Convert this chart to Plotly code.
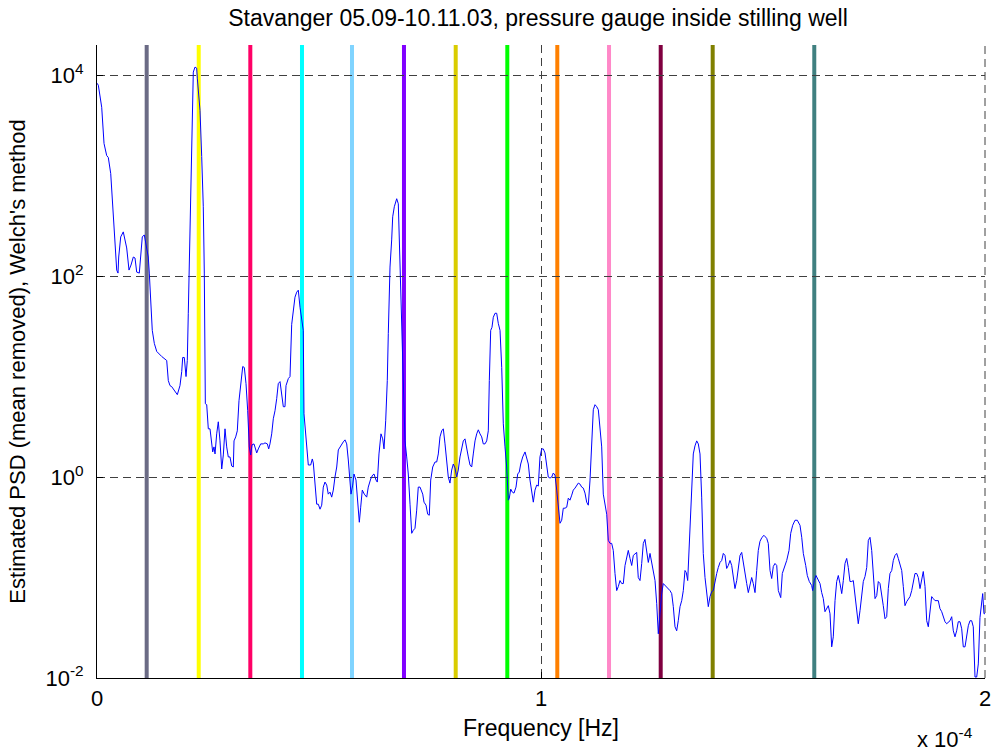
import plotly.graph_objects as go

# Frequency in units of 1e-4 Hz and log10 of the estimated PSD
freq_e4 = [
    0.0000, 0.0030, 0.0106, 0.0128, 0.0158, 0.0218, 0.0255, 0.0309, 0.0331, 0.0383,
    0.0405, 0.0444, 0.0473, 0.0489, 0.0534, 0.0592, 0.0669, 0.0721, 0.0766, 0.0818,
    0.0856, 0.0894, 0.0953, 0.0984, 0.1020, 0.1065, 0.1104, 0.1155, 0.1178, 0.1209,
    0.1245, 0.1291, 0.1345, 0.1457, 0.1532, 0.1570, 0.1606, 0.1644, 0.1682, 0.1757,
    0.1809, 0.1869, 0.1908, 0.1930, 0.1966, 0.2005, 0.2034, 0.2056, 0.2065, 0.2110,
    0.2133, 0.2169, 0.2207, 0.2245, 0.2259, 0.2320, 0.2358, 0.2394, 0.2417, 0.2432,
    0.2440, 0.2471, 0.2507, 0.2545, 0.2583, 0.2606, 0.2635, 0.2658, 0.2696, 0.2732,
    0.2770, 0.2809, 0.2845, 0.2883, 0.2921, 0.2957, 0.2995, 0.3034, 0.3070, 0.3086,
    0.3124, 0.3160, 0.3198, 0.3236, 0.3282, 0.3318, 0.3356, 0.3394, 0.3430, 0.3462,
    0.3491, 0.3536, 0.3597, 0.3633, 0.3687, 0.3745, 0.3784, 0.3836, 0.3867, 0.3896,
    0.3935, 0.3971, 0.4009, 0.4047, 0.4083, 0.4122, 0.4160, 0.4196, 0.4234, 0.4257,
    0.4309, 0.4347, 0.4385, 0.4421, 0.4459, 0.4498, 0.4534, 0.4572, 0.4610, 0.4646,
    0.4662, 0.4685, 0.4723, 0.4759, 0.4813, 0.4849, 0.4872, 0.4910, 0.4948, 0.4984,
    0.5023, 0.5061, 0.5097, 0.5135, 0.5174, 0.5209, 0.5248, 0.5286, 0.5322, 0.5360,
    0.5399, 0.5435, 0.5473, 0.5547, 0.5586, 0.5624, 0.5660, 0.5698, 0.5721, 0.5759,
    0.5788, 0.5833, 0.5863, 0.5908, 0.5939, 0.5975, 0.6020, 0.6074, 0.6110, 0.6164,
    0.6209, 0.6239, 0.6284, 0.6313, 0.6351, 0.6396, 0.6435, 0.6464, 0.6502, 0.6538,
    0.6561, 0.6599, 0.6637, 0.6660, 0.6696, 0.6750, 0.6786, 0.6824, 0.6863, 0.6899,
    0.6937, 0.6975, 0.7011, 0.7050, 0.7088, 0.7124, 0.7162, 0.7200, 0.7236, 0.7275,
    0.7336, 0.7365, 0.7410, 0.7448, 0.7484, 0.7516, 0.7561, 0.7613, 0.7651, 0.7687,
    0.7725, 0.7764, 0.7800, 0.7838, 0.7876, 0.7912, 0.7950, 0.7989, 0.8025, 0.8063,
    0.8101, 0.8137, 0.8176, 0.8214, 0.8250, 0.8288, 0.8327, 0.8363, 0.8401, 0.8439,
    0.8475, 0.8514, 0.8552, 0.8588, 0.8626, 0.8664, 0.8700, 0.8739, 0.8777, 0.8813,
    0.8836, 0.8867, 0.8896, 0.8926, 0.8964, 0.9002, 0.9038, 0.9077, 0.9115, 0.9151,
    0.9189, 0.9227, 0.9264, 0.9286, 0.9318, 0.9354, 0.9392, 0.9437, 0.9475, 0.9511,
    0.9543, 0.9588, 0.9640, 0.9678, 0.9714, 0.9752, 0.9791, 0.9827, 0.9865, 0.9903,
    0.9939, 0.9977, 1.0016, 1.0052, 1.0090, 1.0128, 1.0164, 1.0203, 1.0241, 1.0277,
    1.0315, 1.0354, 1.0390, 1.0428, 1.0466, 1.0502, 1.0541, 1.0579, 1.0615, 1.0653,
    1.0692, 1.0727, 1.0766, 1.0804, 1.0840, 1.0878, 1.0917, 1.0953, 1.0991, 1.1029,
    1.1065, 1.1104, 1.1142, 1.1178, 1.1216, 1.1255, 1.1291, 1.1329, 1.1367, 1.1403,
    1.1441, 1.1480, 1.1516, 1.1554, 1.1592, 1.1628, 1.1667, 1.1705, 1.1741, 1.1779,
    1.1818, 1.1854, 1.1892, 1.1930, 1.1966, 1.2005, 1.2043, 1.2079, 1.2117, 1.2155,
    1.2191, 1.2230, 1.2268, 1.2304, 1.2342, 1.2381, 1.2417, 1.2455, 1.2493, 1.2529,
    1.2568, 1.2606, 1.2642, 1.2680, 1.2718, 1.2754, 1.2793, 1.2831, 1.2867, 1.2905,
    1.2944, 1.2980, 1.3018, 1.3056, 1.3092, 1.3131, 1.3169, 1.3205, 1.3243, 1.3272,
    1.3304, 1.3318, 1.3356, 1.3394, 1.3430, 1.3468, 1.3507, 1.3543, 1.3581, 1.3619,
    1.3655, 1.3694, 1.3732, 1.3768, 1.3806, 1.3845, 1.3881, 1.3919, 1.3957, 1.3993,
    1.4032, 1.4070, 1.4106, 1.4144, 1.4182, 1.4218, 1.4257, 1.4295, 1.4331, 1.4369,
    1.4408, 1.4444, 1.4482, 1.4520, 1.4556, 1.4595, 1.4633, 1.4669, 1.4707, 1.4745,
    1.4781, 1.4820, 1.4858, 1.4894, 1.4932, 1.4977, 1.5023, 1.5083, 1.5119, 1.5158,
    1.5196, 1.5232, 1.5270, 1.5309, 1.5345, 1.5399, 1.5435, 1.5495, 1.5534, 1.5586,
    1.5624, 1.5669, 1.5721, 1.5773, 1.5833, 1.5872, 1.5908, 1.5962, 1.5998, 1.6043,
    1.6097, 1.6119, 1.6155, 1.6194, 1.6245, 1.6284, 1.6322, 1.6358, 1.6396, 1.6435,
    1.6471, 1.6509, 1.6547, 1.6583, 1.6622, 1.6660, 1.6696, 1.6734, 1.6773, 1.6809,
    1.6847, 1.6885, 1.6921, 1.6959, 1.6998, 1.7034, 1.7072, 1.7110, 1.7146, 1.7185,
    1.7223, 1.7259, 1.7297, 1.7336, 1.7372, 1.7410, 1.7448, 1.7484, 1.7523, 1.7561,
    1.7597, 1.7635, 1.7674, 1.7709, 1.7748, 1.7786, 1.7822, 1.7860, 1.7899, 1.7935,
    1.7973, 1.8011, 1.8047, 1.8086, 1.8124, 1.8160, 1.8198, 1.8236, 1.8272, 1.8311,
    1.8349, 1.8385, 1.8423, 1.8462, 1.8498, 1.8536, 1.8574, 1.8610, 1.8649, 1.8687,
    1.8723, 1.8761, 1.8799, 1.8835, 1.8874, 1.8948, 1.8986, 1.9025, 1.9061, 1.9099,
    1.9137, 1.9173, 1.9212, 1.9250, 1.9286, 1.9324, 1.9362, 1.9398, 1.9437, 1.9475,
    1.9511, 1.9550, 1.9588, 1.9624, 1.9662, 1.9700, 1.9736, 1.9775, 1.9813, 1.9849,
    1.9887, 1.9926, 1.9948, 1.9977, 2.0000,
]

log10_psd = [
    3.92, 3.90, 3.68, 3.49, 3.32, 3.20, 3.18, 3.02, 2.86, 2.53,
    2.26, 2.06, 2.03, 2.19, 2.39, 2.44, 2.28, 2.06, 2.11, 2.19,
    2.18, 2.04, 2.03, 2.19, 2.39, 2.41, 2.33, 2.19, 2.03, 1.69,
    1.46, 1.33, 1.25, 1.20, 1.17, 1.16, 0.96, 0.91, 0.90, 0.85,
    0.82, 0.91, 1.05, 1.19, 1.19, 1.00, 1.16, 1.63, 1.83, 3.02,
    3.55, 4.03, 4.08, 4.07, 3.97, 3.65, 3.19, 2.69, 2.03, 1.06,
    0.73, 0.72, 0.48, 0.48, 0.36, 0.25, 0.30, 0.23, 0.43, 0.55,
    0.36, 0.08, 0.22, 0.48, 0.30, 0.20, 0.20, 0.11, 0.10, 0.36,
    0.40, 0.46, 0.76, 0.91, 1.10, 1.09, 0.93, 0.66, 0.30, 0.22,
    0.32, 0.33, 0.24, 0.28, 0.33, 0.33, 0.34, 0.33, 0.28, 0.33,
    0.43, 0.58, 0.66, 0.78, 0.93, 0.95, 0.81, 0.70, 0.70, 0.91,
    0.98, 1.00, 1.52, 1.69, 1.79, 1.84, 1.86, 1.69, 1.56, 1.46,
    0.63, 0.50, 0.30, 0.12, 0.12, 0.18, 0.14, -0.10, -0.27, -0.27,
    -0.32, -0.28, -0.10, -0.05, -0.08, -0.17, -0.15, -0.20, -0.13, 0.00,
    0.10, 0.27, 0.30, 0.35, 0.37, 0.33, 0.17, -0.03, -0.17, -0.08,
    0.03, -0.03, -0.23, -0.45, -0.30, -0.13, -0.17, -0.20, -0.10, -0.02,
    0.02, 0.03, -0.03, -0.05, 0.23, 0.43, 0.38, 0.28, 0.56, 0.96,
    1.43, 2.09, 2.36, 2.59, 2.69, 2.77, 2.72, 2.09, 1.63, 1.03,
    0.36, 0.20, 0.03, -0.27, -0.56, -0.53, -0.51, -0.33, -0.10, -0.10,
    -0.17, -0.25, -0.28, -0.37, -0.38, -0.03, 0.10, 0.15, 0.15, 0.23,
    0.40, 0.46, 0.48, 0.33, 0.17, 0.00, -0.06, 0.07, 0.13, 0.09,
    0.00, 0.07, 0.20, 0.30, 0.36, 0.38, 0.27, 0.20, 0.12, 0.10,
    0.23, 0.36, 0.43, 0.47, 0.43, 0.40, 0.33, 0.33, 0.36, 0.46,
    0.96, 1.46, 1.49, 1.59, 1.63, 1.63, 1.53, 1.46, 1.09, 0.53,
    0.30, 0.10, -0.23, -0.21, -0.12, -0.15, -0.16, -0.10, 0.03, 0.05,
    0.13, 0.20, 0.25, 0.20, 0.13, -0.03, -0.17, -0.25, -0.13, -0.08,
    -0.09, 0.20, 0.28, 0.28, 0.24, 0.10, 0.00, -0.01, 0.00, 0.04,
    0.02, -0.13, -0.33, -0.46, -0.43, -0.31, -0.31, -0.30, -0.21, -0.23,
    -0.18, -0.13, -0.11, -0.08, -0.06, -0.07, -0.10, -0.11, -0.16, -0.25,
    -0.28, -0.03, 0.36, 0.67, 0.72, 0.70, 0.67, 0.50, 0.30, -0.17,
    -0.27, -0.37, -0.63, -0.66, -0.66, -0.73, -0.96, -1.13, -1.09, -1.03,
    -1.06, -1.06, -0.88, -0.78, -0.73, -0.81, -0.88, -0.78, -0.76, -0.75,
    -1.00, -1.03, -0.86, -0.66, -0.62, -0.76, -0.85, -0.76, -0.85, -0.90,
    -1.03, -1.26, -1.56, -1.36, -1.16, -1.06, -1.08, -1.09, -1.11, -1.13,
    -1.16, -1.29, -1.49, -1.53, -1.43, -1.29, -1.23, -1.13, -0.93, -0.95,
    -1.03, -0.90, -0.53, -0.20, 0.23, 0.31, 0.36, 0.33, 0.23, -0.20,
    -0.76, -1.00, -1.16, -1.29, -1.19, -1.14, -1.13, -1.03, -0.96, -0.90,
    -0.85, -0.83, -0.76, -0.78, -0.91, -0.88, -0.83, -0.88, -1.00, -1.11,
    -1.03, -0.90, -0.78, -0.75, -0.86, -0.98, -1.06, -1.15, -1.06, -1.00,
    -1.06, -1.15, -0.93, -0.73, -0.64, -0.60, -0.58, -0.61, -0.66, -0.93,
    -1.01, -0.89, -0.86, -0.88, -1.13, -1.20, -0.96, -0.89, -0.83, -0.73,
    -0.56, -0.48, -0.43, -0.43, -0.48, -0.60, -0.76, -0.88, -0.98, -1.04,
    -1.08, -1.13, -1.03, -0.98, -1.03, -1.06, -1.15, -1.21, -1.34, -1.31,
    -1.28, -1.36, -1.69, -1.59, -1.23, -1.04, -0.98, -1.06, -1.16, -1.03,
    -0.86, -0.81, -0.90, -1.04, -1.04, -1.03, -1.16, -1.33, -1.46, -1.33,
    -1.15, -1.04, -0.99, -0.90, -0.63, -0.60, -0.73, -1.00, -1.21, -1.18,
    -1.04, -1.06, -1.16, -1.28, -1.41, -1.39, -1.11, -0.96, -0.93, -0.83,
    -0.78, -0.76, -0.81, -0.86, -0.93, -1.09, -1.28, -1.24, -1.21, -1.19,
    -1.13, -1.03, -0.96, -0.96, -1.00, -1.11, -1.03, -0.94, -1.09, -1.43,
    -1.49, -1.36, -1.19, -1.21, -1.23, -1.23, -1.31, -1.34, -1.38, -1.44,
    -1.46, -1.44, -1.43, -1.39, -1.53, -1.59, -1.53, -1.44, -1.44, -1.51,
    -1.69, -1.69, -1.56, -1.48, -1.43, -1.43, -1.49, -1.99, -1.99, -1.86,
    -1.40, -1.23, -1.16, -1.36, -1.36,
]

# Tidal constituent frequencies marked by vertical lines (units of 1e-4 Hz)
tide_freq_e4 = [0.1119, 0.2291, 0.3453, 0.4617, 0.5743, 0.6914, 0.8079,
                0.9241, 1.0367, 1.1532, 1.2696, 1.3867, 1.6155]
tide_colors = ["#6b6b85", "#ffff00", "#ff0066", "#00ffff", "#80d4ff", "#8000ff",
               "#d9cc00", "#00ff00", "#ff8000", "#ff88c8", "#800040", "#808000",
               "#408080"]

x_ticks = [0.0, 1e-4, 2e-4]
x_ticktext = ["0", "1", "2"]
y_ticks = [1e-2, 1e0, 1e2, 1e4]
y_ticktext = ["10<sup>-2</sup>", "10<sup>0</sup>", "10<sup>2</sup>", "10<sup>4</sup>"]

freq_hz = [v * 1e-4 for v in freq_e4]
psd = [10 ** v for v in log10_psd]

FONT = "Liberation Sans, Arial, Helvetica, sans-serif"
FS = 22
FS_T = 23
GRID = "#404040"
DASH = "8px,5px"

fig = go.Figure()

shapes = []
for f, c in zip(tide_freq_e4, tide_colors):
    shapes.append(dict(type="line", xref="x", yref="paper", x0=f * 1e-4, x1=f * 1e-4,
                       y0=0, y1=1, line=dict(color=c, width=4), layer="between"))
# dashed right-hand frame line (grid at the last x tick)
shapes.append(dict(type="line", xref="paper", yref="paper", x0=1, x1=1, y0=0, y1=1,
                   line=dict(color=GRID, width=1, dash=DASH), layer="between"))

fig.add_trace(go.Scatter(x=freq_hz, y=psd, mode="lines",
                         line=dict(color="#0000ff", width=1), showlegend=False,
                         hoverinfo="skip"))

fig.update_layout(
    width=993, height=751,
    margin=dict(l=97, r=8, t=45, b=73, autoexpand=False),
    paper_bgcolor="white", plot_bgcolor="white",
    font=dict(family=FONT, size=FS, color="black"),
    title=dict(text="Stavanger 05.09-10.11.03, pressure gauge inside stilling well",
               xref="container", x=0.5418, xanchor="center",
               yref="container", y=0.976, yanchor="middle",
               font=dict(size=FS_T, family=FONT, color="black")),
    shapes=shapes,
    showlegend=False,
    annotations=[dict(text="x 10<sup>-4</sup>", xref="paper", yref="paper",
                      x=0.989, y=-0.0948, xanchor="right", yanchor="middle",
                      showarrow=False, font=dict(size=FS, family=FONT, color="black"))],
)

fig.update_xaxes(
    range=[0, 2e-4], tickvals=x_ticks, ticktext=x_ticktext, automargin=False,
    showline=True, linecolor="black", linewidth=1, mirror=False,
    ticks="inside", ticklen=6, tickcolor="black", ticklabelstandoff=1,
    showgrid=True, gridcolor=GRID, gridwidth=1, griddash=DASH,
    zeroline=False,
    title=dict(text="Frequency [Hz]", standoff=9, font=dict(size=FS_T, family=FONT)),
)
fig.update_yaxes(
    type="log", range=[-2, 4.3], tickvals=y_ticks, ticktext=y_ticktext, automargin=False,
    showline=True, linecolor="black", linewidth=1, mirror=False,
    ticks="inside", ticklen=6, tickcolor="black", ticklabelstandoff=8,
    showgrid=True, gridcolor=GRID, gridwidth=1, griddash=DASH,
    zeroline=False,
    title=dict(text="Estimated PSD (mean removed), Welch's method", standoff=13,
               font=dict(size=FS, family=FONT)),
)

fig.write_html("out.html")
